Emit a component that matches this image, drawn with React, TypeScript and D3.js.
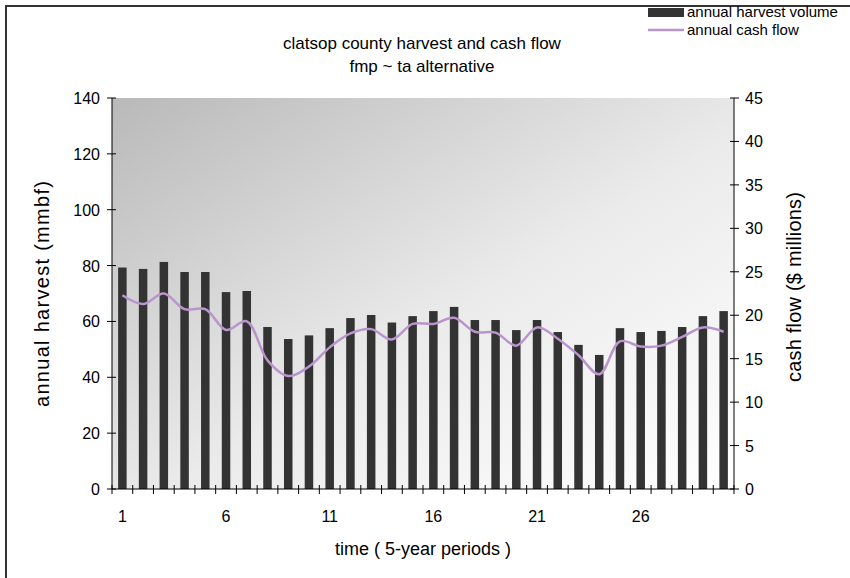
import * as React from 'react';
import * as d3 from 'd3';

// 5-year periods 1..30
const periods = d3.range(1, 31);

// annual harvest volume (mmbf), left axis
const harvest = [
  79.3, 78.8, 81.3, 77.7, 77.7, 70.5, 70.9, 58.0, 53.7, 55.0,
  57.6, 61.2, 62.3, 59.6, 61.9, 63.7, 65.2, 60.5, 60.5, 56.9,
  60.5, 56.2, 51.6, 48.0, 57.6, 56.2, 56.6, 58.0, 61.9, 63.7,
];

// annual cash flow ($ millions), right axis
const cashFlow = [
  22.3, 21.3, 22.5, 20.7, 20.7, 18.3, 19.3, 14.8, 13.0, 14.1,
  16.3, 17.9, 18.4, 17.2, 19.0, 19.0, 19.7, 18.1, 18.0, 16.5,
  18.6, 17.3, 15.4, 13.2, 17.0, 16.4, 16.5, 17.5, 18.6, 18.1,
];

const leftTicks = [0, 20, 40, 60, 80, 100, 120, 140];
const rightTicks = [0, 5, 10, 15, 20, 25, 30, 35, 40, 45];
const xLabels = [1, 6, 11, 16, 21, 26];

const titleLines = ['clatsop county harvest and cash flow', 'fmp ~ ta alternative'];
const legendItems = ['annual harvest volume', 'annual cash flow'];

const width = 850;
const height = 578;
const plot = { left: 112, right: 734, top: 98, bottom: 489 };
const font = '"Liberation Sans", Arial, sans-serif';
const barColor = '#333333';
const lineColor = '#b995cc';

const App = () => {
  const x = d3.scaleBand<number>()
    .domain(periods)
    .range([plot.left, plot.right])
    .paddingInner(0.59)
    .paddingOuter(0.295);
  const step = x.step();
  const center = (p: number) => (x(p) as number) + x.bandwidth() / 2;

  const yL = d3.scaleLinear().domain([0, 140]).range([plot.bottom, plot.top]);
  const yR = d3.scaleLinear().domain([0, 45]).range([plot.bottom, plot.top]);

  const line = d3.line<number>()
    .x((d, i) => center(periods[i]))
    .y(d => yR(d))
    .curve(d3.curveCatmullRom.alpha(0.5));

  // tick marks on the category axis sit on band boundaries
  const boundaries = d3.range(0, periods.length + 1).map(i => plot.left + i * step);

  return (
    <svg width={width} height={height} style={{ display: 'block', position: 'absolute', left: 0, top: 0 }}>
      <defs>
        <linearGradient id="plotBg" x1="0" y1="0" x2="1" y2="1">
          <stop offset="0%" stopColor="#b9b9b9" />
          <stop offset="55%" stopColor="#ebebeb" />
          <stop offset="100%" stopColor="#ffffff" />
        </linearGradient>
      </defs>
      <rect x={0} y={0} width={width} height={height} fill="#ffffff" />
      <rect x={6} y={6} width={width + 20} height={height + 20} fill="none" stroke="#333" strokeWidth={2} />

      {/* title */}
      {titleLines.map((t, i) => (
        <text key={t} x={422} y={49 + i * 23} textAnchor="middle" fontFamily={font} fontSize={17} fill="#000">{t}</text>
      ))}

      {/* legend */}
      <rect x={648} y={8} width={36} height={9} fill={barColor} />
      <text x={687} y={17} fontFamily={font} fontSize={15} fill="#000">{legendItems[0]}</text>
      <line x1={648} x2={684} y1={30} y2={30} stroke={lineColor} strokeWidth={2.5} />
      <text x={687} y={35} fontFamily={font} fontSize={15} fill="#000">{legendItems[1]}</text>

      {/* plot background */}
      <rect x={plot.left} y={plot.top} width={plot.right - plot.left} height={plot.bottom - plot.top} fill="url(#plotBg)" />

      {/* bars */}
      {harvest.map((v, i) => (
        <rect key={i} x={x(periods[i])} y={yL(v)} width={x.bandwidth()} height={plot.bottom - yL(v)} fill={barColor} />
      ))}

      {/* cash flow line */}
      <path d={line(cashFlow) || ''} fill="none" stroke={lineColor} strokeWidth={2.5} />

      {/* left axis */}
      <line x1={plot.left} x2={plot.left} y1={plot.top} y2={plot.bottom} stroke="#000" />
      {leftTicks.map(t => (
        <g key={t}>
          <line x1={plot.left - 5} x2={plot.left + 4} y1={yL(t)} y2={yL(t)} stroke="#000" />
          <text x={plot.left - 12} y={yL(t) + 6} textAnchor="end" fontFamily={font} fontSize={16} fill="#000">{t}</text>
        </g>
      ))}

      {/* right axis */}
      <line x1={plot.right} x2={plot.right} y1={plot.top} y2={plot.bottom} stroke="#000" />
      {rightTicks.map(t => (
        <g key={t}>
          <line x1={plot.right - 4} x2={plot.right + 5} y1={yR(t)} y2={yR(t)} stroke="#000" />
          <text x={plot.right + 11} y={yR(t) + 6} fontFamily={font} fontSize={16} fill="#000">{t}</text>
        </g>
      ))}

      {/* bottom axis */}
      <line x1={plot.left} x2={plot.right} y1={plot.bottom} y2={plot.bottom} stroke="#000" />
      {boundaries.map((bx, i) => (
        <line key={i} x1={bx} x2={bx} y1={plot.bottom - 4} y2={plot.bottom + 5} stroke="#000" />
      ))}
      {xLabels.map(p => (
        <text key={p} x={center(p)} y={522} textAnchor="middle" fontFamily={font} fontSize={16} fill="#000">{p}</text>
      ))}

      {/* axis titles */}
      <text x={423} y={555} textAnchor="middle" fontFamily={font} fontSize={18} fill="#000">time ( 5-year periods )</text>
      <text transform="translate(49, 294) rotate(-90)" textAnchor="middle" fontFamily={font} fontSize={20}
        textLength={226} lengthAdjust="spacing" fill="#000">annual harvest (mmbf)</text>
      <text transform="translate(801, 287) rotate(-90)" textAnchor="middle" fontFamily={font} fontSize={20}
        textLength={190} lengthAdjust="spacing" fill="#000">cash flow ($ millions)</text>
    </svg>
  );
};

export default App;
